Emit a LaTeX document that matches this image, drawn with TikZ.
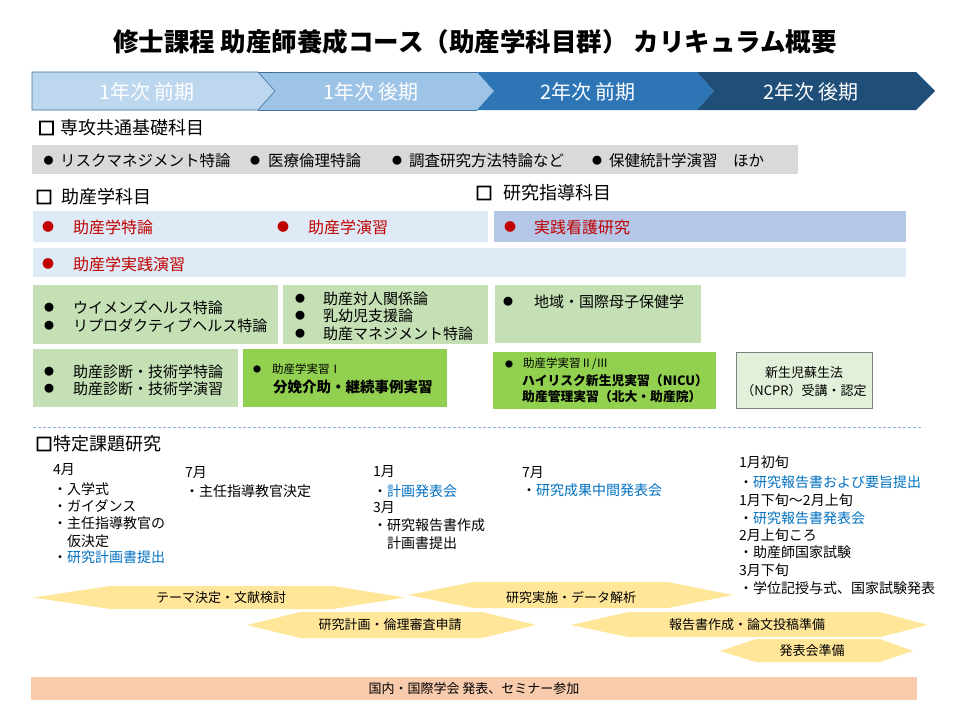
\documentclass[tikz,border=0pt]{standalone}
\usepackage{fontspec}
\setmainfont{Noto Sans CJK JP}
\newfontfamily\boxfont{Noto Sans CJK JP}[FakeBold=7]
\newcommand\myfs[1]{\fontsize{#1}{#1}\selectfont}
\definecolor{hA}{HTML}{BDD7EE}
\definecolor{hB}{HTML}{9DC3E6}
\definecolor{hC}{HTML}{2E75B6}
\definecolor{hD}{HTML}{1F4E79}
\definecolor{hLine}{HTML}{41719C}
\definecolor{grayBar}{HTML}{D9D9D9}
\definecolor{lightBar}{HTML}{DEEBF7}
\definecolor{midBar}{HTML}{B4C7E7}
\definecolor{greenBox}{HTML}{C5E0B4}
\definecolor{brightGreen}{HTML}{92D050}
\definecolor{paleGreen}{HTML}{E2F0D9}
\definecolor{hexFill}{HTML}{FFE699}
\definecolor{pinkBand}{HTML}{F8CBAD}
\definecolor{redTxt}{HTML}{C00000}
\definecolor{blueTxt}{HTML}{0070C0}
\definecolor{dashCol}{HTML}{8FAADC}
\begin{document}
\begin{tikzpicture}[x=1pt,y=-1pt,
  lbl/.style={anchor=west,inner sep=0pt},
  ctr/.style={inner sep=0pt},
  bul/.style={inner sep=0pt,font=\myfs{10}},
  rbul/.style={inner sep=0pt,font=\myfs{12},text=redTxt},
  sbul/.style={inner sep=0pt,font=\myfs{8}},
  sq/.style={inner sep=0pt,font=\boxfont\myfs{17}},
  sect/.style={lbl,font=\myfs{18}},
  hdr/.style={ctr,font=\myfs{20},text=white},
  gtxt/.style={lbl,font=\myfs{15.5}},
  rtxt/.style={lbl,font=\myfs{16},text=redTxt},
  btxt/.style={lbl,font=\myfs{15}},
  ctxt/.style={lbl,font=\myfs{14}},
  hextxt/.style={ctr,font=\myfs{13}},
  hexshape/.style={fill=hexFill},
  blue/.style={text=blueTxt}
]
\useasboundingbox (0,0) rectangle (960,720);

% title
\node[ctr,font=\bfseries\myfs{25.5}] (title) at (475,42) {修士課程 助産師養成コース（助産学科目群） カリキュラム概要};

% header chevrons
\fill[hA] (32,72) -- (258,72) -- (275,91) -- (258,110) -- (32,110) -- cycle;
\fill[hB] (258,72) -- (477,72) -- (494,91) -- (477,110) -- (258,110) -- (275,91) -- cycle;
\fill[hC] (477,72) -- (697,72) -- (714,91) -- (697,110) -- (477,110) -- (494,91) -- cycle;
\fill[hD] (697,72) -- (916,72) -- (935,91) -- (916,110) -- (697,110) -- (714,91) -- cycle;
\draw[hLine,line width=0.6pt] (32,72) -- (258,72) -- (275,91) -- (258,110) -- (32,110) -- cycle;
\draw[hLine,line width=0.6pt] (258,72) -- (477,72) (258,110) -- (477,110);
\node[hdr] (h1) at (147,92) {1年次 前期};
\node[hdr] (h2) at (371,92) {1年次 後期};
\node[hdr] (h3) at (588,92) {2年次 前期};
\node[hdr] (h4) at (811,92) {2年次 後期};

% section 1
\node[sq] (sq1) at (46.5,128) {□};
\node[sect] (s1) at (60,128) {専攻共通基礎科目};
\fill[grayBar] (32,145) rectangle (798,174);
\node[bul] (gb1) at (48.5,161) {●};
\node[gtxt] (g1) at (60,161) {リスクマネジメント特論};
\node[bul] (gb2) at (255,161) {●};
\node[gtxt] (g2) at (268,161) {医療倫理特論};
\node[bul] (gb3) at (397,161) {●};
\node[gtxt] (g3) at (409,161) {調査研究方法特論など};
\node[bul] (gb4) at (597,161) {●};
\node[gtxt] (g4) at (609,161) {保健統計学演習　ほか};

% section 2 / 3 headers
\node[sq] (sq2) at (44,197) {□};
\node[sect] (s2) at (61,197) {助産学科目};
\node[sq] (sq3) at (484,193) {□};
\node[sect] (s3) at (503,193) {研究指導科目};

% blue bars
\fill[lightBar] (33,211) rectangle (488,242);
\fill[midBar] (494,211) rectangle (906,242);
\fill[lightBar] (33,248) rectangle (906,277);
\node[rbul] (rb1) at (48,227) {●};
\node[rtxt] (r1) at (73,227) {助産学特論};
\node[rbul] (rb2) at (283,227) {●};
\node[rtxt] (r2) at (308,227) {助産学演習};
\node[rbul] (rb3) at (510,227) {●};
\node[rtxt] (r3) at (534,227) {実践看護研究};
\node[rbul] (rb4) at (48,264) {●};
\node[rtxt] (r4) at (73,264) {助産学実践演習};

% green row 1
\fill[greenBox] (33,285) rectangle (278,344);
\fill[greenBox] (283,285) rectangle (488,344);
\fill[greenBox] (495,285) rectangle (701,343);
\node[bul] (ab1) at (49,308) {●};
\node[btxt] (a1) at (73,308) {ウイメンズヘルス特論};
\node[bul] (ab2) at (49,326) {●};
\node[btxt] (a2) at (73,326) {リプロダクティブヘルス特論};
\node[bul] (bb1) at (300,299) {●};
\node[btxt] (b1) at (323,299) {助産対人関係論};
\node[bul] (bb2) at (300,316) {●};
\node[btxt] (b2) at (323,316) {乳幼児支援論};
\node[bul] (bb3) at (300,334) {●};
\node[btxt] (b3) at (323,334) {助産マネジメント特論};
\node[bul] (cb1) at (508,302) {●};
\node[btxt] (c1) at (534,302) {地域・国際母子保健学};

% green row 2
\fill[greenBox] (33,349) rectangle (238,407);
\fill[brightGreen] (243,349) rectangle (447,407);
\fill[brightGreen] (493,352) rectangle (716,409);
\fill[paleGreen] (736,352) rectangle (872,408);
\draw[black!50,line width=0.8pt] (736,352) rectangle (872,408);
\node[bul] (db1) at (49,372) {●};
\node[btxt] (d1) at (73,372) {助産診断・技術学特論};
\node[bul] (db2) at (49,389) {●};
\node[btxt] (d2) at (73,389) {助産診断・技術学演習};
\node[sbul] (eb1) at (257,369) {●};
\node[lbl,font=\myfs{11.5}] (e1) at (272,369) {助産学実習Ⅰ};
\node[lbl,font=\bfseries\myfs{14.5}] (e2) at (273,387) {分娩介助・継続事例実習};
\node[sbul] (fb1) at (509,364) {●};
\node[lbl,font=\myfs{11.5}] (f1) at (523,364) {助産学実習Ⅱ/Ⅲ};
\node[lbl,font=\bfseries\myfs{12.8}] (f2) at (522,381) {ハイリスク新生児実習（NICU）};
\node[lbl,font=\bfseries\myfs{12.8}] (f3) at (522,397) {助産管理実習（北大・助産院）};
\node[ctr,font=\myfs{13}] (g5) at (804,373) {新生児蘇生法};
\node[ctr,font=\myfs{13}] (g6) at (804,391) {（NCPR）受講・認定};

% dashed separator
\draw[dashCol,line width=0.8pt,dash pattern=on 3pt off 2pt] (33,427) -- (923,427);

% section 4
\node[sq] (sq4) at (44,444) {□};
\node[sect] (s4) at (53,444) {特定課題研究};

% column 1
\node[ctxt] (k1a) at (53,470) {4月};
\node[ctxt] (k1b) at (53,489) {・入学式};
\node[ctxt] (k1c) at (53,506) {・ガイダンス};
\node[ctxt] (k1d) at (53,523) {・主任指導教官の};
\node[ctxt] (k1e) at (67,541) {仮決定};
\node[ctxt] (k1f) at (53,557) {・\textcolor{blueTxt}{研究計画書提出}};
% column 2
\node[ctxt] (k2a) at (185,473) {7月};
\node[ctxt] (k2b) at (185,491) {・主任指導教官決定};
% column 3
\node[ctxt] (k3a) at (373,472) {1月};
\node[ctxt] (k3b) at (373,491) {・\textcolor{blueTxt}{計画発表会}};
\node[ctxt] (k3c) at (373,508) {3月};
\node[ctxt] (k3d) at (373,525) {・研究報告書作成};
\node[ctxt] (k3e) at (387,543) {計画書提出};
% column 4
\node[ctxt] (k4a) at (522,473) {7月};
\node[ctxt] (k4b) at (522,490) {・\textcolor{blueTxt}{研究成果中間発表会}};
% column 5
\node[ctxt] (k5a) at (739,462) {1月初旬};
\node[ctxt] (k5b) at (739,482) {・\textcolor{blueTxt}{研究報告書および要旨提出}};
\node[ctxt] (k5c) at (739,500) {1月下旬～2月上旬};
\node[ctxt] (k5d) at (739,518) {・\textcolor{blueTxt}{研究報告書発表会}};
\node[ctxt] (k5e) at (739,535) {2月上旬ころ};
\node[ctxt] (k5f) at (739,552) {・助産師国家試験};
\node[ctxt] (k5g) at (739,570) {3月下旬};
\node[ctxt] (k5h) at (739,588) {・学位記授与式、国家試験発表};

% hexagon arrows
\fill[hexshape] (33,597.5) -- (110,586) -- (333,586) -- (405,597.5) -- (333,609) -- (110,609) -- cycle;
\fill[hexshape] (408,595) -- (473,582) -- (668,582) -- (733,595) -- (668,608) -- (473,608) -- cycle;
\fill[hexshape] (247,625) -- (300,612) -- (482,612) -- (536,625) -- (482,638) -- (300,638) -- cycle;
\fill[hexshape] (571,625) -- (628,612) -- (880,612) -- (928,625) -- (880,637) -- (628,637) -- cycle;
\fill[hexshape] (720,651) -- (756,639) -- (880,639) -- (913,651) -- (880,662) -- (756,662) -- cycle;
\node[hextxt] (x1) at (221,598) {テーマ決定・文献検討};
\node[hextxt] (x2) at (571,597) {研究実施・データ解析};
\node[hextxt] (x3) at (390,625) {研究計画・倫理審査申請};
\node[hextxt] (x4) at (747,625) {報告書作成・論文投稿準備};
\node[hextxt] (x5) at (812,651) {発表会準備};

% bottom band
\fill[pinkBand] (31,677) rectangle (917,700);
\node[hextxt] (band) at (474,689) {国内・国際学会 発表、セミナー参加};
\end{tikzpicture}
\end{document}
